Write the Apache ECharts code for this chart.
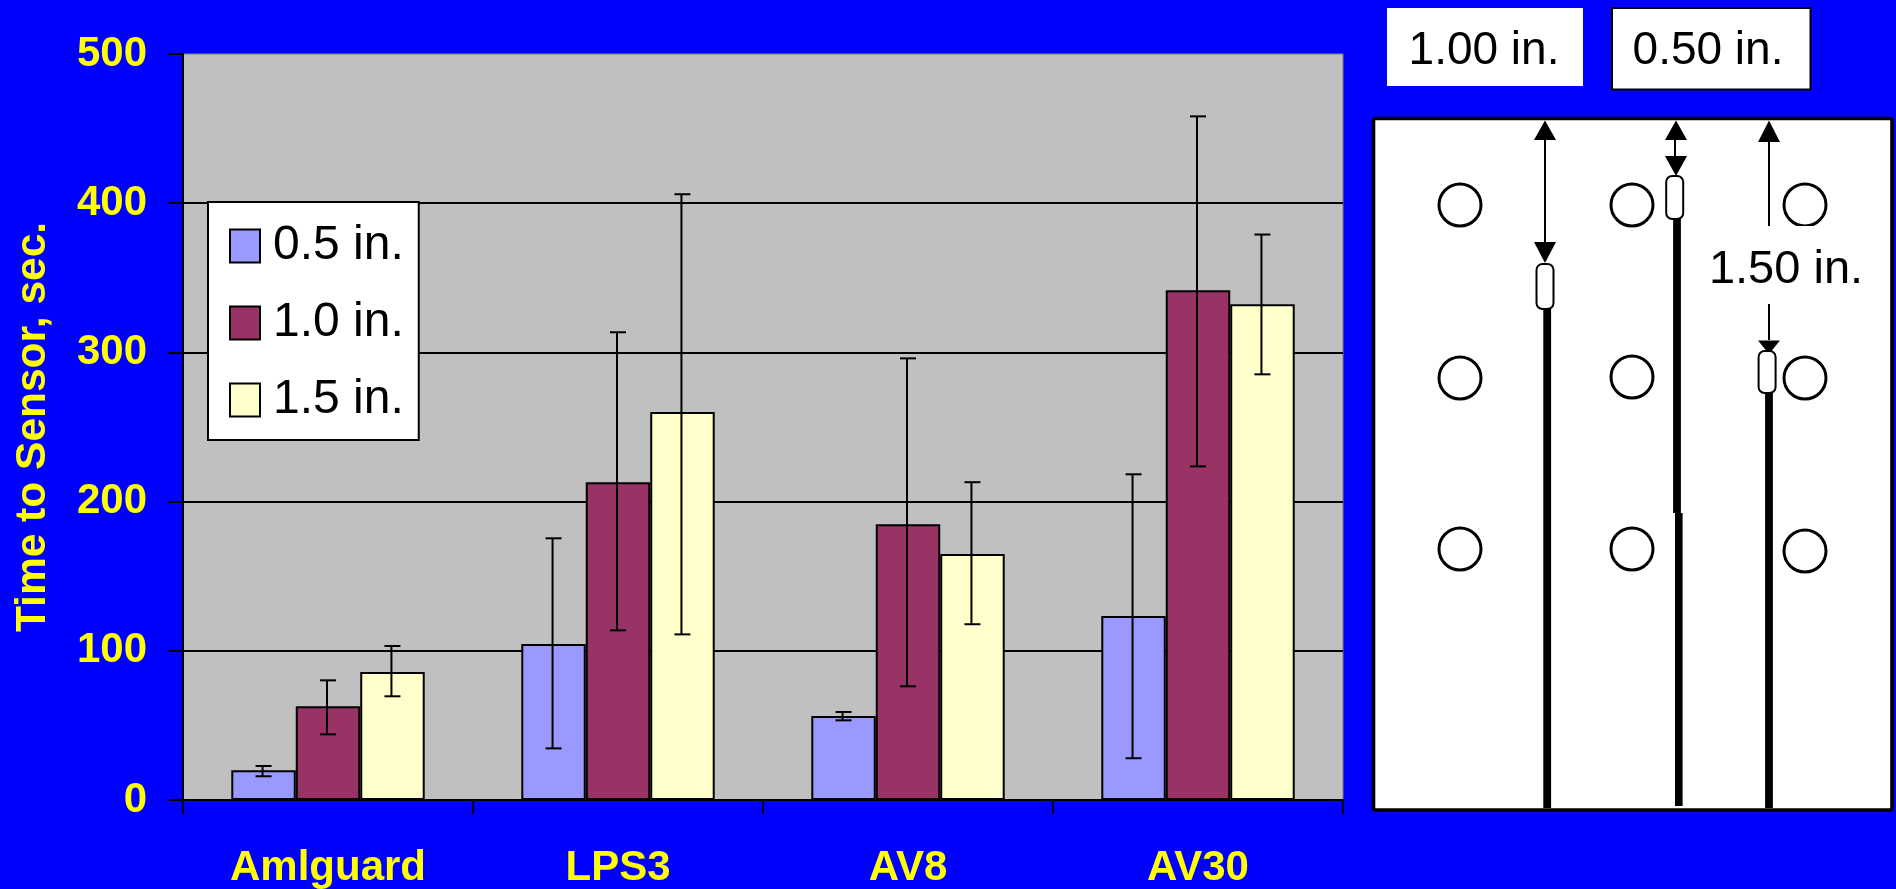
<!DOCTYPE html>
<html>
<head>
<meta charset="utf-8">
<style>html,body{margin:0;padding:0;background:#0000FF;overflow:hidden}#c{width:1896px;height:889px}</style>
<script src="https://cdn.jsdelivr.net/npm/echarts@6/dist/echarts.min.js"></script>
</head>
<body>
<div id="c"></div>
<script>
const categories = ['Amlguard', 'LPS3', 'AV8', 'AV30'];
const seriesNames = ['0.5 in.', '1.0 in.', '1.5 in.'];
const values05 = [20, 104.6, 56.3, 123.3];
const values10 = [62.8, 212.9, 184.8, 341.6];
const values15 = [85.8, 260, 164.9, 332.2];
const high05 = [22.8, 175.4, 59, 218.3];
const high10 = [80.2, 313.5, 296, 458.2];
const high15 = [103.2, 406, 213, 379];
const low05 = [15.9, 34.6, 53.4, 28];
const low10 = [44, 113.7, 76.2, 223.6];
const low15 = [69.5, 111, 117.8, 285.3];
const yTicks = [0, 100, 200, 300, 400, 500];
const barColors = ['#9999FF', '#993366', '#FFFFCC'];
const FONT = '"Liberation Sans", Arial, sans-serif';

const allValues = [values05, values10, values15];
const allHigh = [high05, high10, high15];
const allLow = [low05, low10, low15];

const barSeries = seriesNames.map((name, i) => ({
  name, type: 'bar', data: allValues[i], barGap: 0, barCategoryGap: '33.3%', z: 2,
  itemStyle: { color: barColors[i], borderColor: '#000', borderWidth: 2 }
}));

const errSeries = seriesNames.map((name, i) => ({
  name: 'err ' + name, type: 'custom', z: 3, clip: false,
  data: categories.map((c, k) => [k, allLow[i][k], allHigh[i][k]]),
  encode: { x: 0, y: [1, 2] },
  renderItem(params, api) {
    const band = api.size([1, 0])[0];
    const off = (i - 1) * (band * (2 / 3) / 3);
    const lo = api.coord([api.value(0), api.value(1)]);
    const hi = api.coord([api.value(0), api.value(2)]);
    const x = lo[0] + off;
    const st = { stroke: '#000', lineWidth: 2 };
    const cap = 8;
    return { type: 'group', children: [
      { type: 'line', shape: { x1: x - 1, y1: hi[1], x2: x - 1, y2: lo[1] }, style: st },
      { type: 'line', shape: { x1: x - cap, y1: hi[1], x2: x + cap, y2: hi[1] }, style: st },
      { type: 'line', shape: { x1: x - cap, y1: lo[1], x2: x + cap, y2: lo[1] }, style: st }
    ] };
  }
}));

/* schematic panel on the right */
const g = [];
const K = '#000';
function rect(x, y, w, h, fill, stroke, lw, r) {
  g.push({ type: 'rect', shape: { x, y, width: w, height: h, r: r || 0 },
    style: { fill, stroke: stroke || null, lineWidth: lw || 0 } });
}
function text(cx, cy, t, size) {
  g.push({ type: 'text', style: { x: cx, y: cy, text: t, fill: K, font: size + 'px ' + FONT, align: 'center', verticalAlign: 'middle' } });
}
function circle(cx, cy) {
  g.push({ type: 'circle', shape: { cx, cy, r: 21 }, style: { fill: 'none', stroke: K, lineWidth: 3 } });
}
function vline(x, y1, y2, w) {
  g.push({ type: 'line', shape: { x1: x, y1, x2: x, y2 }, style: { stroke: K, lineWidth: w } });
}
function headUp(x, tip, base) {
  g.push({ type: 'polygon', shape: { points: [[x, tip], [x - 11, base], [x + 11, base]] }, style: { fill: K } });
}
function headDown(x, tip, base) { headUp(x, tip, base); }

rect(1387, 8, 196, 78, '#fff');
text(1484, 51, '1.00 in.', 46);
rect(1612, 8, 198.5, 81.5, '#fff', K, 2);
text(1708, 51, '0.50 in.', 46);

rect(1373.5, 118.5, 518.5, 691.5, '#fff', K, 3.6, 2);

[[1460, 205], [1460, 378], [1460, 549], [1632, 205], [1632, 377], [1632, 549],
 [1805, 205], [1805, 378], [1805, 551]].forEach(p => circle(p[0], p[1]));

/* rods */
vline(1547.2, 305, 808, 7.8);
vline(1677, 215, 513, 7.8);
vline(1678.8, 513, 806, 7.6);
vline(1769, 389, 808, 7.8);

/* arrows */
vline(1545, 139, 243, 2);
headUp(1545, 120.5, 140);
headDown(1545, 263, 242);
vline(1675, 139, 157, 2);
headUp(1676, 120.5, 140);
headDown(1676, 176, 156);
vline(1769, 141, 340, 2);
headUp(1769, 120.5, 142);
headDown(1769, 354, 340.5);

/* label with white cut-out */
rect(1708, 226, 157, 78, '#fff');
text(1786, 270, '1.50 in.', 47);

/* sensors */
rect(1536.5, 264, 17, 45, '#fff', K, 2, 6);
rect(1666.2, 176, 17, 43, '#fff', K, 2, 6);
rect(1758.6, 351, 17, 42, '#fff', K, 2, 6);

const chart = echarts.init(document.getElementById('c'), null, { renderer: 'canvas' });
chart.setOption({
  animation: false,
  backgroundColor: '#0000FF',
  textStyle: { fontFamily: FONT },
  grid: { left: 183, top: 54, width: 1160, height: 746, show: true, backgroundColor: '#C0C0C0', borderColor: '#808080', borderWidth: 1, containLabel: false, outerBoundsMode: 'none' },
  legend: {
    data: seriesNames, orient: 'vertical', left: 208, top: 202,
    backgroundColor: '#fff', borderColor: '#000', borderWidth: 2, borderRadius: 0,
    padding: [20, 15, 16, 21], itemWidth: 30, itemHeight: 33, itemGap: 29,
    icon: 'rect', selectedMode: false, z: 10,
    textStyle: { color: '#000', fontSize: 48, fontFamily: FONT, lineHeight: 33, padding: [0, 0, 0, 8] }
  },
  xAxis: {
    type: 'category', data: categories,
    axisLine: { lineStyle: { color: '#000', width: 2 } },
    axisTick: { show: true, length: 14, alignWithLabel: false, lineStyle: { color: '#000', width: 2 } },
    axisLabel: { color: '#FFFF00', fontSize: 42, fontWeight: 'bold', fontFamily: FONT, margin: 47 }
  },
  yAxis: {
    type: 'value', min: yTicks[0], max: yTicks[yTicks.length - 1], interval: yTicks[1] - yTicks[0],
    name: 'Time to Sensor, sec.', nameLocation: 'middle', nameRotate: 90, nameGap: 128,
    nameTextStyle: { color: '#FFFF00', fontSize: 42.5, fontWeight: 'bold', fontFamily: FONT },
    axisLine: { show: true, lineStyle: { color: '#000', width: 2 } },
    axisTick: { show: true, length: 15, lineStyle: { color: '#000', width: 2 } },
    axisLabel: { color: '#FFFF00', fontSize: 42, fontWeight: 'bold', fontFamily: FONT, margin: 36, padding: [5, 0, 0, 0] },
    splitLine: { show: true, showMinLine: false, showMaxLine: false, lineStyle: { color: '#000', width: 2 } }
  },
  series: barSeries.concat(errSeries),
  graphic: { elements: g }
});
</script>
</body>
</html>
